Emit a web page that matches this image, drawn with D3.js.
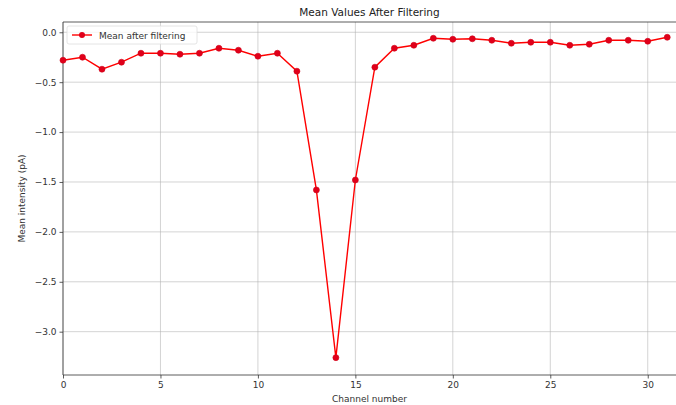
<!DOCTYPE html>
<html>
<head>
<meta charset="utf-8">
<script src="https://cdn.jsdelivr.net/npm/d3@7"></script>
<style>
  html, body { margin: 0; padding: 0; background: #fff; }
  svg { display: block; font-family: "DejaVu Sans", sans-serif; }
</style>
</head>
<body>
<svg id="chart" width="676" height="405"></svg>
<script>
// Mean intensity per channel after filtering
const channels = d3.range(0, 32);
const meanValues = [
  -0.28, -0.25, -0.37, -0.30, -0.21, -0.21, -0.22, -0.21,
  -0.16, -0.18, -0.24, -0.21, -0.39, -1.58, -3.26, -1.48,
  -0.35, -0.16, -0.13, -0.06, -0.07, -0.065, -0.08, -0.11,
  -0.10, -0.10, -0.13, -0.12, -0.08, -0.08, -0.09, -0.05
];
const xTicks = [0, 5, 10, 15, 20, 25, 30];
const yTicks = [0.0, -0.5, -1.0, -1.5, -2.0, -2.5, -3.0];
const seriesName = "Mean after filtering";
const titleText = "Mean Values After Filtering";
const xLabel = "Channel number";
const yLabel = "Mean intensity (pA)";

const W = 676, H = 405;
const margin = { left: 63, right: 0, top: 22, bottom: 30 };
const svg = d3.select("#chart");

const x = d3.scaleLinear().domain([0, 31.45]).range([margin.left, W - margin.right]);
const y = d3.scaleLinear().domain([0.103, -3.434]).range([margin.top, H - margin.bottom]);

const fmt = v => (v < 0 ? "\u2212" : "") + Math.abs(v).toFixed(1);

// grid
const grid = svg.append("g");
grid.selectAll(".gx").data(xTicks).enter().append("line")
  .attr("x1", d => x(d)).attr("x2", d => x(d))
  .attr("y1", margin.top).attr("y2", H - margin.bottom)
  .attr("stroke", "#b0b0b0").attr("stroke-opacity", 0.7).attr("stroke-width", 0.8);
grid.selectAll(".gy").data(yTicks).enter().append("line")
  .attr("x1", margin.left).attr("x2", W - margin.right)
  .attr("y1", d => y(d)).attr("y2", d => y(d))
  .attr("stroke", "#b0b0b0").attr("stroke-opacity", 0.7).attr("stroke-width", 0.8);

// axes
const xAxis = d3.axisBottom(x).tickValues(xTicks).tickFormat(d3.format("d")).tickSize(3.5).tickPadding(3);
const yAxis = d3.axisLeft(y).tickValues(yTicks).tickFormat(fmt).tickSize(3.5).tickPadding(3);

const gx = svg.append("g").attr("transform", `translate(0,${H - margin.bottom})`).call(xAxis);
const gy = svg.append("g").attr("transform", `translate(${margin.left},0)`).call(yAxis);
[gx, gy].forEach(g => {
  g.select(".domain").remove();
  g.selectAll("line").attr("stroke", "#333").attr("stroke-width", 0.8);
  g.selectAll("text").attr("fill", "#333").style("font-size", "9px").style("font-family", "DejaVu Sans");
});

// spines
svg.append("line").attr("x1", margin.left).attr("x2", W).attr("y1", margin.top).attr("y2", margin.top)
  .attr("stroke", "#333").attr("stroke-width", 0.8);
svg.append("line").attr("x1", margin.left).attr("x2", W).attr("y1", H - margin.bottom).attr("y2", H - margin.bottom)
  .attr("stroke", "#333").attr("stroke-width", 0.8);
svg.append("line").attr("x1", margin.left).attr("x2", margin.left).attr("y1", margin.top).attr("y2", H - margin.bottom)
  .attr("stroke", "#333").attr("stroke-width", 0.8);

// series line + markers
const line = d3.line().x((d, i) => x(channels[i])).y(d => y(d));
svg.append("path").datum(meanValues)
  .attr("d", line).attr("fill", "none").attr("stroke", "red").attr("stroke-width", 1.4);
svg.selectAll(".pt").data(meanValues).enter().append("circle")
  .attr("cx", (d, i) => x(channels[i])).attr("cy", d => y(d)).attr("r", 3)
  .attr("fill", "#e0001a").attr("stroke", "#d00018").attr("stroke-width", 0.6);

// legend
const lg = svg.append("g").attr("transform", `translate(${margin.left + 4},${margin.top + 4})`);
lg.append("rect").attr("x", 0).attr("y", 0).attr("width", 130).attr("height", 18)
  .attr("rx", 2).attr("fill", "#fff").attr("fill-opacity", 0.8)
  .attr("stroke", "#ddd").attr("stroke-width", 0.8);
lg.append("line").attr("x1", 5).attr("x2", 25).attr("y1", 9).attr("y2", 9)
  .attr("stroke", "red").attr("stroke-width", 1.4);
lg.append("circle").attr("cx", 15).attr("cy", 9).attr("r", 3).attr("fill", "#e0001a");
lg.append("text").attr("x", 32).attr("y", 12.5).text(seriesName)
  .attr("fill", "#333").style("font-size", "9px");

// title and axis labels
svg.append("text").attr("x", (margin.left + W) / 2).attr("y", 16).attr("text-anchor", "middle")
  .text(titleText).attr("fill", "#222").style("font-size", "10.5px");
svg.append("text").attr("x", (margin.left + W) / 2).attr("y", 402).attr("text-anchor", "middle")
  .text(xLabel).attr("fill", "#333").style("font-size", "9px");
svg.append("text").attr("transform", `translate(25,${(margin.top + H - margin.bottom) / 2}) rotate(-90)`)
  .attr("text-anchor", "middle").text(yLabel).attr("fill", "#333").style("font-size", "9px");
</script>
</body>
</html>
